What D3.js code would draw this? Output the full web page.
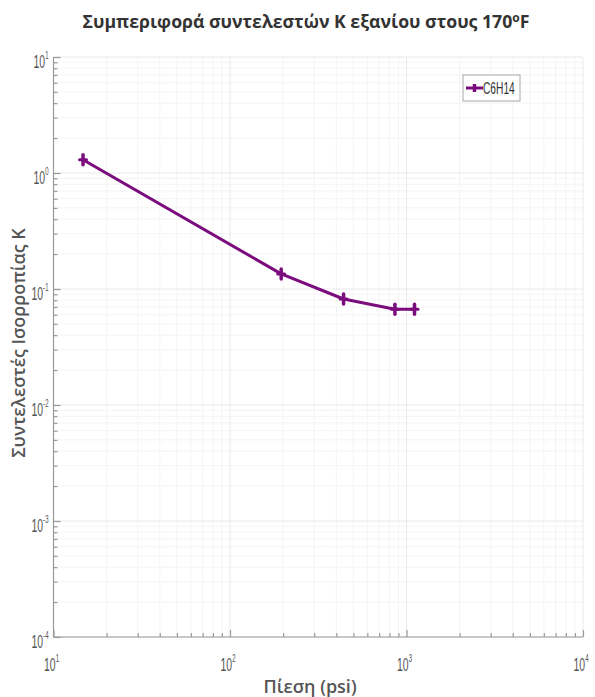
<!DOCTYPE html>
<html>
<head>
<meta charset="utf-8">
<script src="https://cdn.jsdelivr.net/npm/d3@7"></script>
<style>
  html, body { margin: 0; padding: 0; background: #fff; }
  svg { display: block; }
</style>
</head>
<body>
<svg id="chart" width="595" height="697"></svg>
<script>
// Pressure (psi) and equilibrium ratio K of hexane at 170 °F
const pressure = [14.7, 195, 440, 860, 1110];
const kValue   = [1.3, 0.135, 0.082, 0.067, 0.067];
const seriesName = "C6H14";

// Decade exponents used as tick labels (10^n)
const xTickExps = [1, 2, 3, 4];
const yTickExps = [1, 0, -1, -2, -3, -4];

const titleText = "Συμπεριφορά συντελεστών K εξανίου στους 170";
const xLabel = "Πίεση (psi)";
const yLabel = "Συντελεστές Ισορροπίας K";

const W = 595, H = 697;
const margin = { left: 53.5, right: 12, top: 57, bottom: 60 };
const purple = "#7a0c7e";

const svg = d3.select("#chart");

const x = d3.scaleLog().domain([1e1, 1e4]).range([margin.left, W - margin.right]);
const y = d3.scaleLog().domain([1e-4, 1e1]).range([H - margin.bottom, margin.top]);

const [x0, x1] = x.range();
const [y1, y0] = y.range();

// minor grid values for each decade (2..9 × 10^n)
function minors(lo, hi) {
  const out = [];
  for (let e = lo; e < hi; e++) for (let m = 2; m <= 9; m++) out.push(m * Math.pow(10, e));
  return out;
}
const xMinor = minors(1, 4);
const yMinor = minors(-4, 1);
const xMajor = xTickExps.map(e => Math.pow(10, e));
const yMajor = yTickExps.map(e => Math.pow(10, e));

// grid
const grid = svg.append("g");
grid.selectAll(".xm").data(xMinor).join("line")
  .attr("x1", d => x(d)).attr("x2", d => x(d)).attr("y1", y0).attr("y2", y1)
  .attr("stroke", "#f4f4f4").attr("stroke-width", 1);
grid.selectAll(".ym").data(yMinor).join("line")
  .attr("y1", d => y(d)).attr("y2", d => y(d)).attr("x1", x0).attr("x2", x1)
  .attr("stroke", "#f4f4f4").attr("stroke-width", 1);
grid.selectAll(".xM").data(xMajor).join("line")
  .attr("x1", d => x(d)).attr("x2", d => x(d)).attr("y1", y0).attr("y2", y1)
  .attr("stroke", "#e9e9e9").attr("stroke-width", 1);
grid.selectAll(".yM").data(yMajor).join("line")
  .attr("y1", d => y(d)).attr("y2", d => y(d)).attr("x1", x0).attr("x2", x1)
  .attr("stroke", "#e9e9e9").attr("stroke-width", 1);

// axes (ticks pointing inward)
const axisColor = "#999";
const xAxisMajor = d3.axisBottom(x).tickValues(xMajor).tickSize(-7).tickFormat("");
const xAxisMinor = d3.axisBottom(x).tickValues(xMinor).tickSize(-4).tickFormat("");
const yAxisMajor = d3.axisLeft(y).tickValues(yMajor).tickSize(-7).tickFormat("");
const yAxisMinor = d3.axisLeft(y).tickValues(yMinor).tickSize(-4).tickFormat("");

function styleAxis(g) {
  g.selectAll("path, line").attr("stroke", axisColor).attr("stroke-width", 1.2);
}
svg.append("g").attr("transform", `translate(0,${y1})`).call(xAxisMinor).call(styleAxis).select(".domain").remove();
svg.append("g").attr("transform", `translate(0,${y1})`).call(xAxisMajor).call(styleAxis)
  .select(".domain").attr("d", `M${x0},0H${x1}`);
svg.append("g").attr("transform", `translate(${x0},0)`).call(yAxisMinor).call(styleAxis).select(".domain").remove();
svg.append("g").attr("transform", `translate(${x0},0)`).call(yAxisMajor).call(styleAxis)
  .select(".domain").attr("d", `M0,${y0}V${y1}`);

// tick labels 10^n, set in a tall condensed face
const tickFont = "'Liberation Sans','Arial',sans-serif";
function powerLabel(sel) {
  sel.append("tspan").text("10");
  sel.append("tspan").attr("dy", -9).attr("font-size", 11).text(d => d);
}
svg.append("g").selectAll("text").data(xTickExps).join("text")
  .attr("transform", d => `translate(${x(Math.pow(10, d)) - 2},${y1 + 34}) scale(0.55,1)`)
  .attr("text-anchor", "middle")
  .attr("font-family", tickFont).attr("font-size", 19).attr("fill", "#555")
  .call(powerLabel);
svg.append("g").selectAll("text").data(yTickExps).join("text")
  .attr("transform", d => `translate(${x0 - 5},${y(Math.pow(10, d)) + 11}) scale(0.55,1)`)
  .attr("text-anchor", "end")
  .attr("font-family", tickFont).attr("font-size", 19).attr("fill", "#555")
  .call(powerLabel);

// series line
const pts = pressure.map((p, i) => [p, kValue[i]]);
svg.append("path")
  .datum(pts)
  .attr("fill", "none").attr("stroke", purple).attr("stroke-width", 3)
  .attr("stroke-linejoin", "round")
  .attr("d", d3.line().x(d => x(d[0])).y(d => y(d[1])));

// plus markers
const mk = svg.append("g").selectAll("g").data(pts).join("g")
  .attr("transform", d => `translate(${x(d[0])},${y(d[1])})`);
mk.append("line").attr("x1", 0).attr("x2", 0).attr("y1", -5).attr("y2", 5)
  .attr("stroke", purple).attr("stroke-width", 3.5).attr("stroke-linecap", "round");
mk.append("line").attr("x1", -3.5).attr("x2", 3.5).attr("y1", 0).attr("y2", 0)
  .attr("stroke", purple).attr("stroke-width", 3).attr("stroke-linecap", "round");

// legend
const lg = svg.append("g").attr("transform", "translate(463,75)");
lg.append("rect").attr("width", 57).attr("height", 26)
  .attr("fill", "#fff").attr("stroke", "#a8a8a8").attr("stroke-width", 1);
lg.append("line").attr("x1", 3).attr("x2", 20).attr("y1", 13).attr("y2", 13)
  .attr("stroke", purple).attr("stroke-width", 3);
lg.append("line").attr("x1", 11.5).attr("x2", 11.5).attr("y1", 9).attr("y2", 17)
  .attr("stroke", purple).attr("stroke-width", 3.5);
lg.append("text").attr("transform", "translate(20,19) scale(0.6,1)")
  .attr("font-family", tickFont).attr("font-size", 17).attr("fill", "#333")
  .text(seriesName);

// title
const t = svg.append("text").attr("x", 306).attr("y", 28)
  .attr("text-anchor", "middle")
  .attr("font-family", "'Open Sans','Noto Sans',sans-serif")
  .attr("font-size", 17.7).attr("font-weight", "bold").attr("fill", "#333");
t.append("tspan").text(titleText);
t.append("tspan").attr("dy", -6).attr("font-size", 12).text("o");
t.append("tspan").attr("dy", 6).text("F");

// axis labels
svg.append("text").attr("x", 310).attr("y", 693)
  .attr("text-anchor", "middle")
  .attr("font-family", "'Open Sans','Noto Sans',sans-serif")
  .attr("font-size", 18).attr("font-weight", 600).attr("fill", "#555")
  .text(xLabel);
svg.append("text")
  .attr("transform", "translate(25,343) rotate(-90)")
  .attr("text-anchor", "middle")
  .attr("font-family", "'Open Sans','Noto Sans',sans-serif")
  .attr("font-size", 18).attr("font-weight", 600).attr("fill", "#555")
  .text(yLabel);
</script>
</body>
</html>
